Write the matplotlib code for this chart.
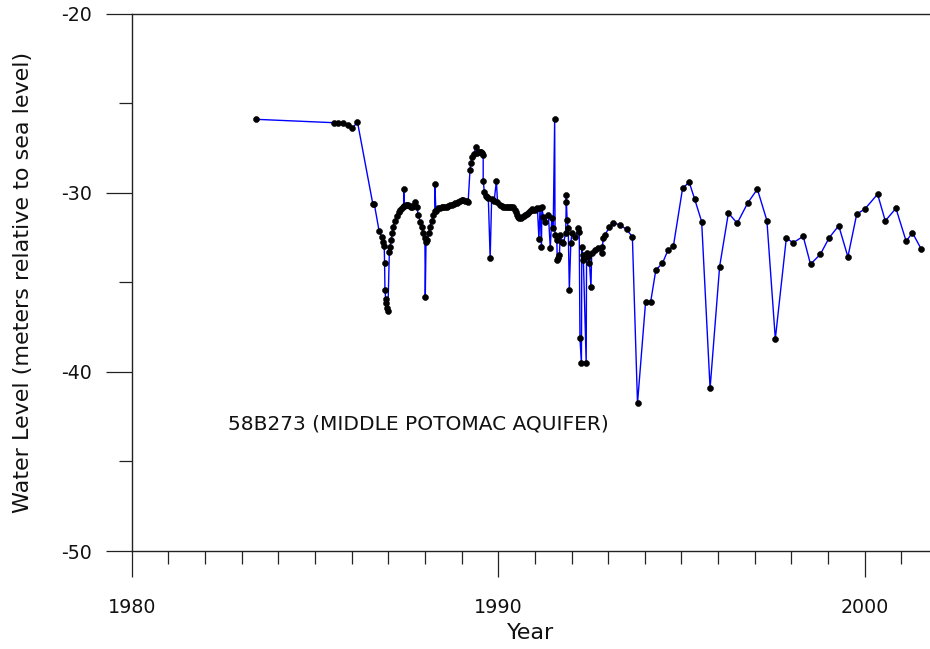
import matplotlib
matplotlib.use("Agg")
import matplotlib.pyplot as plt
from matplotlib.ticker import MultipleLocator

# Well 58B273 water-level record (decimal year, metres relative to sea level)
years = [
    1983.39, 1985.52, 1985.64, 1985.77, 1985.89, 1986.02, 1986.16, 1986.58, 1986.62, 1986.75,
    1986.82, 1986.87, 1986.89, 1986.90, 1986.91, 1986.93, 1986.94, 1986.96, 1986.99, 1987.03,
    1987.05, 1987.08, 1987.11, 1987.14, 1987.18, 1987.23, 1987.29, 1987.33, 1987.37, 1987.42, 1987.42,
    1987.44, 1987.48, 1987.51, 1987.55, 1987.59, 1987.62, 1987.65, 1987.68, 1987.73, 1987.78, 1987.82, 1987.87, 1987.91,
    1987.96, 1988.00, 1988.01, 1988.03, 1988.07, 1988.10, 1988.14, 1988.19, 1988.23, 1988.27,
    1988.27, 1988.30, 1988.37, 1988.41, 1988.46, 1988.50, 1988.55, 1988.60, 1988.64, 1988.69, 1988.73, 1988.78, 1988.82, 1988.87, 1988.91, 1988.96, 1989.00,
    1989.05, 1989.09, 1989.14, 1989.18, 1989.23, 1989.25, 1989.29, 1989.34, 1989.39, 1989.43, 1989.47, 1989.50, 1989.53, 1989.55,
    1989.59, 1989.59, 1989.62, 1989.67, 1989.70, 1989.73, 1989.78, 1989.82, 1989.86, 1989.89, 1989.95, 1989.98,
    1990.05, 1990.09, 1990.14, 1990.18, 1990.23, 1990.28, 1990.32, 1990.36, 1990.40, 1990.46, 1990.49, 1990.52, 1990.55, 1990.58, 1990.61, 1990.64, 1990.69, 1990.73,
    1990.78, 1990.82, 1990.87, 1990.91, 1990.96, 1991.00, 1991.03, 1991.07, 1991.11, 1991.14, 1991.18, 1991.19, 1991.23, 1991.28,
    1991.37, 1991.42, 1991.46, 1991.50, 1991.54, 1991.55, 1991.60, 1991.61, 1991.64, 1991.67,
    1991.69, 1991.73, 1991.78, 1991.84, 1991.86, 1991.86, 1991.88, 1991.91, 1991.94, 1991.98,
    1992.01, 1992.10, 1992.19, 1992.21, 1992.23, 1992.27, 1992.28, 1992.31, 1992.32, 1992.40,
    1992.41, 1992.46, 1992.49, 1992.53, 1992.55, 1992.64, 1992.73, 1992.82, 1992.84, 1992.87,
    1992.91, 1993.03, 1993.14, 1993.32, 1993.50, 1993.66, 1993.80, 1994.02, 1994.16, 1994.30,
    1994.48, 1994.63, 1994.78, 1995.03, 1995.21, 1995.36, 1995.55, 1995.78, 1996.04, 1996.28,
    1996.52, 1996.81, 1997.07, 1997.33, 1997.56, 1997.86, 1998.05, 1998.32, 1998.52, 1998.79,
    1999.03, 1999.29, 1999.54, 1999.78, 2000.01, 2000.35, 2000.56, 2000.85, 2001.13, 2001.30,
    2001.54,
]
levels = [
    -25.90, -26.09, -26.09, -26.12, -26.23, -26.40, -26.05, -30.64, -30.64, -32.13,
    -32.48, -32.73, -32.95, -33.94, -35.43, -35.93, -36.17, -36.45, -36.60, -33.29,
    -33.01, -32.64, -32.26, -31.89, -31.56, -31.30, -31.06, -30.95, -30.87, -30.74, -29.77,
    -30.74, -30.66, -30.67, -30.68, -30.75, -30.81, -30.78, -30.74, -30.50, -30.81, -31.24, -31.61, -31.93,
    -32.26, -32.54, -35.82, -32.73, -32.64, -32.26, -31.89, -31.56, -31.24, -31.00,
    -29.51, -31.00, -30.87, -30.84, -30.81, -30.81, -30.81, -30.78, -30.74, -30.71, -30.68, -30.63, -30.59, -30.55, -30.50, -30.45, -30.40,
    -30.42, -30.44, -30.47, -30.50, -28.73, -28.35, -28.02, -27.83, -27.43, -27.76, -27.73, -27.71, -27.75, -27.79,
    -27.89, -29.32, -29.94, -30.18, -30.25, -30.31, -33.66, -30.36, -30.40, -30.44, -29.34, -30.50,
    -30.68, -30.73, -30.78, -30.80, -30.81, -30.79, -30.78, -30.80, -30.81, -30.96, -31.10, -31.24, -31.35, -31.42, -31.40, -31.37, -31.30, -31.24,
    -31.19, -31.14, -31.03, -30.92, -30.94, -30.96, -30.90, -30.87, -32.58, -30.87, -33.01, -30.81, -31.33, -31.61,
    -31.24, -33.10, -31.42, -31.98, -25.90, -32.36, -32.64, -33.75, -33.66, -33.47,
    -32.36, -32.73, -32.82, -32.26, -30.12, -30.53, -31.52, -31.98, -35.43, -32.82,
    -32.26, -32.45, -31.98, -32.17, -38.12, -39.52, -33.01, -33.75, -33.47, -39.52,
    -33.38, -33.57, -33.90, -35.28, -33.38, -33.19, -33.10, -33.34, -33.01, -32.54,
    -32.36, -31.93, -31.67, -31.80, -32.04, -32.46, -41.75, -36.11, -36.08, -34.31,
    -33.94, -33.21, -32.97, -29.75, -29.41, -30.36, -31.61, -40.92, -34.13, -31.13,
    -31.70, -30.56, -29.80, -31.55, -38.16, -32.54, -32.79, -32.43, -33.99, -33.43,
    -32.51, -31.84, -33.58, -31.20, -30.89, -30.08, -31.57, -30.87, -32.71, -32.23,
    -33.14,
]

well_label = "58B273 (MIDDLE POTOMAC AQUIFER)"
x_title = "Year"
y_title = "Water Level (meters relative to sea level)"

plt.rcParams["font.family"] = ["DejaVu Sans"]
plt.rcParams["axes.unicode_minus"] = False

fig = plt.figure(figsize=(9.30, 6.49), dpi=100)
ax = fig.add_axes([0.1416, 0.151, 1.0 - 0.1416, 0.979 - 0.151])

ax.plot(years, levels, color="#0000ff", linewidth=1.0, zorder=2)
ax.plot(years, levels, linestyle="none", marker="o", markersize=4.3,
        markerfacecolor="black", markeredgecolor="black", markeredgewidth=0.4, zorder=3)

ax.set_xlim(1980, 2001.78)
ax.set_ylim(-50, -20)

ax.xaxis.set_major_locator(MultipleLocator(10))
ax.xaxis.set_minor_locator(MultipleLocator(1))
ax.yaxis.set_major_locator(MultipleLocator(10))
ax.yaxis.set_minor_locator(MultipleLocator(5))

for side in ("left", "top", "bottom"):
    ax.spines[side].set_color("#222222")
    ax.spines[side].set_linewidth(1.0)
ax.spines["right"].set_visible(False)

ax.tick_params(axis="both", which="major", direction="out", length=18.5, width=0.9,
               color="#222222", labelsize=13.7, labelcolor="#111111")
ax.tick_params(axis="both", which="minor", direction="out", length=9.3, width=0.9,
               color="#222222")
ax.tick_params(axis="x", which="major", pad=15)
ax.tick_params(axis="y", which="major", pad=10)
ax.tick_params(top=False, right=False, which="both")

ax.text(1982.63, -42.9, well_label, fontsize=14.5, color="#111111",
        ha="left", va="center")

ax.set_xlabel(x_title, fontsize=16, color="#111111", labelpad=5)
ax.set_ylabel(y_title, fontsize=16, color="#111111", labelpad=20)

fig.savefig("out.png", dpi=100)
